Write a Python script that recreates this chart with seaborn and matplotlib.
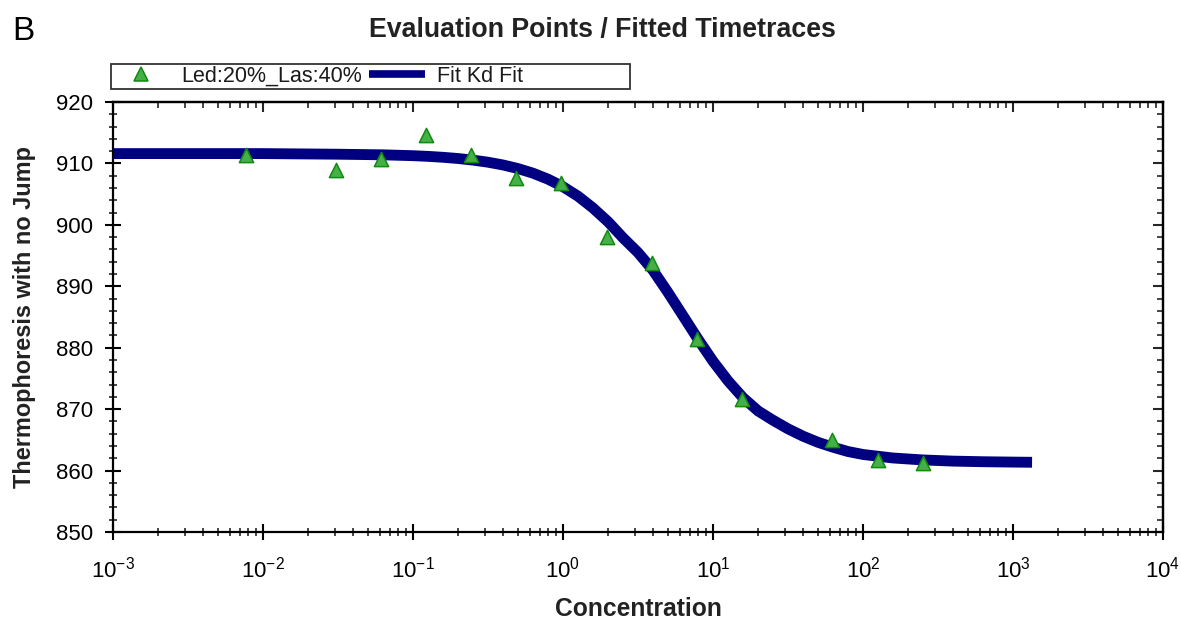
import pandas as pd
import matplotlib
matplotlib.use("Agg")
import matplotlib.pyplot as plt
import seaborn as sns
from matplotlib.lines import Line2D
from matplotlib.ticker import (FixedLocator, LogLocator, MultipleLocator,
                               NullFormatter)


# Evaluation points (concentration, thermophoresis)
conc = [0.0077, 0.0305, 0.061, 0.122, 0.244, 0.488, 0.977,
        1.95, 3.91, 7.81, 15.6, 62.5, 125, 250]
signal = [911.4, 908.9, 910.8, 914.6, 911.4, 907.7, 906.8,
          898.1, 893.8, 881.4, 871.7, 865.0, 861.7, 861.2]

# Fitted Kd curve
fit_conc = [0.001, 0.01, 0.0316, 0.063, 0.1, 0.126, 0.158, 0.2, 0.251,
            0.316, 0.398, 0.5, 0.631, 0.794, 1.0, 1.26, 1.58, 2.0, 2.51,
            3.16, 3.98, 5.01, 6.31, 7.94, 10, 12.6, 15.8, 20, 25.1, 31.6,
            39.8, 50.1, 63.1, 79.4, 100, 158, 251, 398, 631, 1000, 1340]
fit_signal = [911.6, 911.6, 911.5, 911.4, 911.26, 911.15, 911.0, 910.8,
              910.54, 910.2, 909.75, 909.17, 908.41, 907.44, 906.21,
              904.66, 902.77, 900.49, 897.9, 895.5, 892.6, 889.0, 885.2,
              881.4, 877.8, 874.6, 871.9, 869.7, 868.2, 866.8, 865.6,
              864.6, 863.8, 863.1, 862.62, 862.05, 861.73, 861.54, 861.44,
              861.38, 861.35]

x_decades = [1e-3, 1e-2, 1e-1, 1e0, 1e1, 1e2, 1e3, 1e4]

series_label = "Led:20%_Las:40%"
fit_label = "Fit Kd Fit"

pts = pd.DataFrame({'Concentration': conc, 'Signal': signal})
fit = pd.DataFrame({'Concentration': fit_conc, 'Signal': fit_signal})


# Plot
sns.set_style("ticks", {'axes.edgecolor': 'black', 'axes.grid': False})
plt.rcParams['font.family'] = ['Liberation Sans', 'DejaVu Sans']

navy = '#000080'
green_face = '#45b045'
green_edge = '#108a10'

fig = plt.figure(figsize=(11.81, 6.25), dpi=100)
ax = fig.add_axes([113 / 1181, 1 - 532 / 625, 1050 / 1181, 430 / 625])
ax.set_xscale('log')

sns.lineplot(data=fit, x='Concentration', y='Signal', ax=ax,
             color=navy, linewidth=7.8, estimator=None, sort=True,
             solid_capstyle='butt')
sns.scatterplot(data=pts, x='Concentration', y='Signal', ax=ax,
                marker='^', s=105, color=green_face,
                edgecolor=green_edge, linewidth=1.1, zorder=5)

# Axes limits and ticks
ax.set_xlim(1e-3, 1e4)
ax.set_ylim(850, 920)
ax.xaxis.set_major_locator(FixedLocator(x_decades))
ax.xaxis.set_minor_locator(LogLocator(base=10, subs=range(2, 10), numticks=200))
ax.xaxis.set_minor_formatter(NullFormatter())
ax.yaxis.set_major_locator(MultipleLocator(10))
ax.yaxis.set_minor_locator(MultipleLocator(2))

ax.tick_params(which='major', direction='inout', length=11, width=1.5,
               labelsize=16, colors='black')
ax.tick_params(which='minor', direction='inout', length=6, width=1.2)
ax.tick_params(axis='x', which='major', pad=12)
ax.tick_params(axis='y', which='major', pad=9)

for sp in ax.spines.values():
    sp.set_linewidth(1.6)
    sp.set_color('black')

# Inward ticks on top and right
top = ax.secondary_xaxis('top')
top.xaxis.set_major_locator(FixedLocator(x_decades))
top.xaxis.set_minor_locator(LogLocator(base=10, subs=range(2, 10), numticks=200))
top.tick_params(which='major', direction='in', length=7, width=1.5, labeltop=False)
top.tick_params(which='minor', direction='in', length=4, width=1.2, labeltop=False)
top.spines['top'].set_linewidth(1.6)

right = ax.secondary_yaxis('right')
right.yaxis.set_major_locator(MultipleLocator(10))
right.yaxis.set_minor_locator(MultipleLocator(2))
right.tick_params(which='major', direction='in', length=7, width=1.5, labelright=False)
right.tick_params(which='minor', direction='in', length=4, width=1.2, labelright=False)
right.spines['right'].set_linewidth(1.6)

# Labels
ax.set_xlabel("Concentration", fontsize=17.7, fontweight='bold', color='#222222')
ax.set_ylabel("Thermophoresis with no Jump", fontsize=16.9, fontweight='bold',
              color='#222222')
ax.xaxis.set_label_coords(0.5, -0.152)
ax.yaxis.set_label_coords(-0.073, 0.5)

fig.text(0.51, 1 - 30 / 625, "Evaluation Points / Fitted Timetraces",
         ha='center', va='center', fontsize=19.3, fontweight='bold',
         color='#222222')
fig.text(12 / 1181, 1 - 40 / 625, "B", ha='left', va='baseline',
         fontsize=24, color='black')

# Legend above the axes
handles = [Line2D([], [], marker='^', linestyle='none', markersize=10,
                  markerfacecolor=green_face, markeredgecolor=green_edge,
                  markeredgewidth=1.1),
           Line2D([], [], color=navy, linewidth=5.5, solid_capstyle='butt'),
           Line2D([], [], color='none')]
leg = fig.legend(handles, [series_label, fit_label, '     '],
                 loc='lower left', bbox_to_anchor=(111 / 1181, 1 - 89 / 625),
                 ncol=3, fontsize=15.5, frameon=True, fancybox=False,
                 borderpad=0.1, handlelength=2.6, handletextpad=0.56,
                 columnspacing=0.33, borderaxespad=0)
leg.get_frame().set_edgecolor('black')
leg.get_frame().set_linewidth(1.3)
for t in leg.get_texts():
    t.set_color('#1a1a1a')

plt.savefig('out.png', dpi=100)
